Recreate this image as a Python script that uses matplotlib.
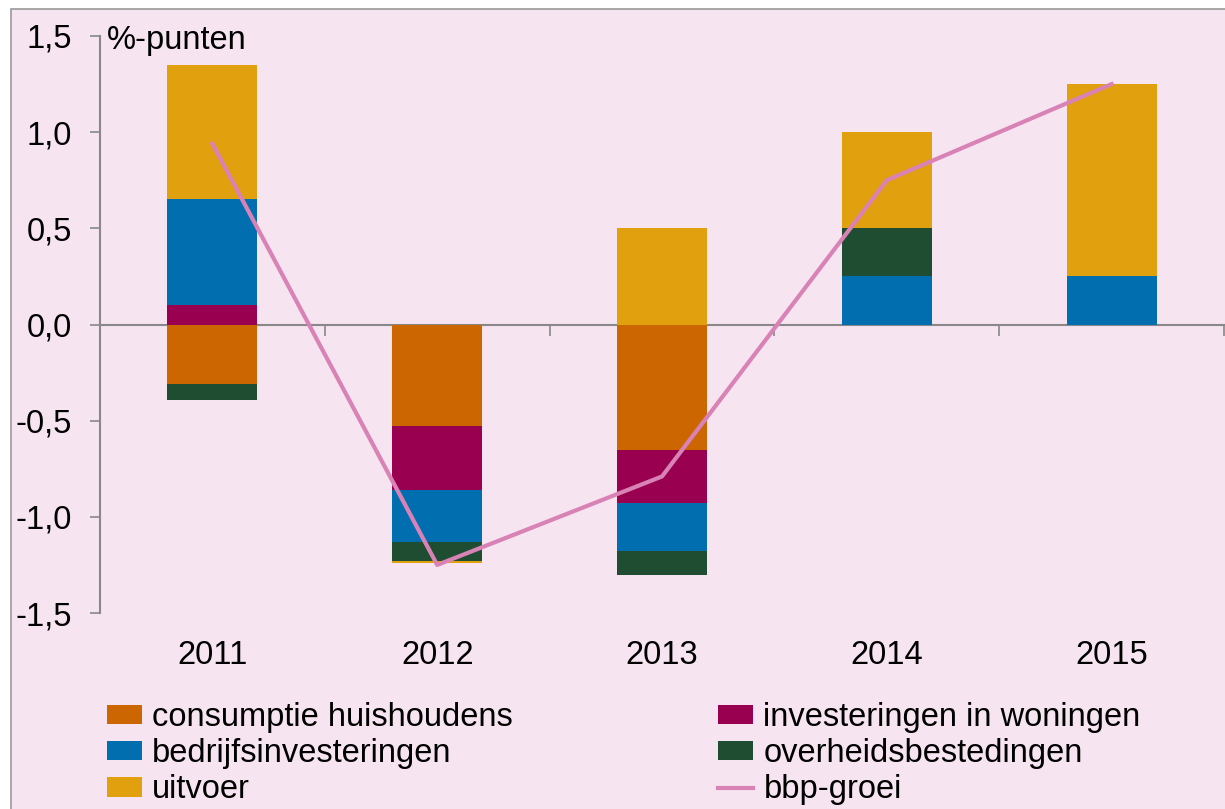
import matplotlib
matplotlib.use('Agg')
import numpy as np
import matplotlib.pyplot as plt
from matplotlib.patches import Rectangle
from matplotlib.ticker import FuncFormatter
import matplotlib.transforms as mtransforms

plt.rcParams['font.family'] = ['Liberation Sans', 'DejaVu Sans']

# data (%-punten bijdrage aan bbp-groei)
jaren = ['2011', '2012', '2013', '2014', '2015']
consumptie = [-0.31, -0.53, -0.65, 0.0, 0.0]
woningen = [0.10, -0.33, -0.28, 0.0, 0.0]
bedrijf = [0.55, -0.27, -0.25, 0.25, 0.25]
overheid = [-0.08, -0.10, -0.12, 0.25, 0.0]
uitvoer = [0.70, -0.01, 0.50, 0.50, 1.00]
bbp = [0.94, -1.25, -0.79, 0.75, 1.25]

series = [
    ('consumptie huishoudens', consumptie, '#CC6600'),
    ('investeringen in woningen', woningen, '#990050'),
    ('bedrijfsinvesteringen', bedrijf, '#006EAF'),
    ('overheidsbestedingen', overheid, '#1E4D31'),
    ('uitvoer', uitvoer, '#E1A00D'),
]

fs = 23.5
bg = '#F6E5F0'
W, H = 1225, 809
fig = plt.figure(figsize=(W / 100, H / 100), dpi=100, facecolor='white')
# achtergrondvlak met grijze rand
fig.patches.append(Rectangle((11 / W, -0.05), 1.2, 1 - 9 / H + 0.05, transform=fig.transFigure,
                             facecolor=bg, edgecolor='#999999', linewidth=1.2, zorder=-1))

ax = fig.add_axes([100 / W, 1 - 613 / H, 1124 / W, 577 / H])
ax.patch.set_alpha(0)

x = np.arange(len(jaren))
pos_base = np.zeros(len(jaren))
neg_base = np.zeros(len(jaren))
handles = {}
for naam, vals, kleur in series:
    v = np.array(vals)
    base = np.where(v >= 0, pos_base, neg_base)
    b = ax.bar(x, v, width=0.4, bottom=base, color=kleur, linewidth=0, zorder=2)
    handles[naam] = b
    pos_base = pos_base + np.where(v > 0, v, 0)
    neg_base = neg_base + np.where(v < 0, v, 0)

lijn, = ax.plot(x, bbp, color='#D982B6', linewidth=3, zorder=3)
handles['bbp-groei'] = lijn

ax.set_xlim(-0.5, len(jaren) - 0.5)
ax.set_ylim(-1.5, 1.5)
ax.set_yticks(np.arange(-1.5, 1.51, 0.5))
ax.yaxis.set_major_formatter(FuncFormatter(lambda v, p: f"{v:.1f}".replace('.', ',')))
ax.tick_params(axis='y', direction='out', length=7, width=1.2, color='#888888',
               labelsize=fs, pad=13)

for s in ['top', 'right']:
    ax.spines[s].set_visible(False)
ax.spines['left'].set_color('#888888')
ax.spines['left'].set_linewidth(1.5)
ax.spines['bottom'].set_position(('data', 0))
ax.spines['bottom'].set_color('#888888')
ax.spines['bottom'].set_linewidth(1.5)
ax.spines['bottom'].set_zorder(1)
ax.set_xticks(np.arange(-0.5, len(jaren), 1.0))
ax.tick_params(axis='x', direction='out', length=8, width=1.2, color='#888888',
               labelbottom=False)

trans = mtransforms.blended_transform_factory(ax.transData, ax.transAxes)
for xi, j in zip(x, jaren):
    ax.text(xi, -0.073, j, transform=trans, ha='center', va='center', fontsize=fs)

fig.text(107 / W, 1 - 41 / H, '%-punten', fontsize=fs, ha='left', va='center')

volgorde = ['consumptie huishoudens', 'bedrijfsinvesteringen', 'uitvoer',
            'investeringen in woningen', 'overheidsbestedingen', 'bbp-groei']
fig.legend([handles[n] for n in volgorde], volgorde, ncol=2, loc='upper left',
           bbox_to_anchor=(107 / W, 1 - 702 / H), frameon=False, fontsize=fs,
           borderpad=0, borderaxespad=0, handlelength=1.07, handleheight=0.54,
           handletextpad=0.31, labelspacing=0.16, columnspacing=6.3)

fig.savefig('out.png', dpi=100, facecolor='white')
